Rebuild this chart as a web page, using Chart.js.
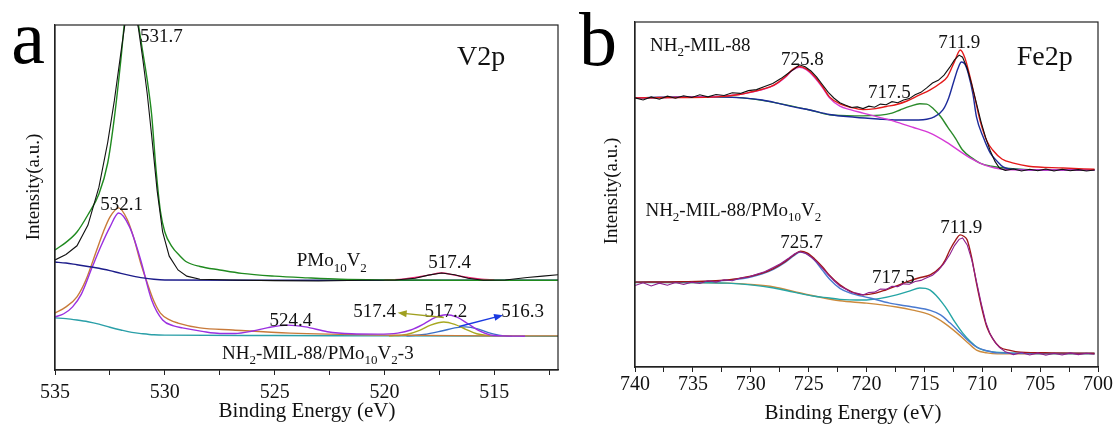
<!DOCTYPE html>
<html>
<head>
<meta charset="utf-8">
<script src="https://cdn.jsdelivr.net/npm/chart.js@4.4.1/dist/chart.umd.min.js"></script>
<style>
    html, body { margin: 0; padding: 0; background: #fff; }
    #wrap { position: relative; width: 1116px; height: 425px; }
    #chartA { position: absolute; left: 0; top: 0; }
    #chartB { position: absolute; left: 560px; top: 0; }
</style>
</head>
<body>
<div id="wrap">
    <canvas id="chartA" width="560" height="425"></canvas>
    <canvas id="chartB" width="556" height="425"></canvas>
</div>
<script>
// ---- V2p spectra: [binding energy (eV), intensity (a.u.)] ----
const v2pTicks = [535, 532.5, 530, 527.5, 525, 522.5, 520, 517.5, 515, 512.5];

// PMo10V2
const pmoRaw = [[535, 31.9], [534.5, 33.5], [534, 36], [533.5, 42], [533, 53], [532.6, 66], [532.3, 78], [532, 92], [531.8, 101], [531.6, 106], [531.4, 105], [531.2, 99], [531, 90], [530.8, 80], [530.6, 68], [530.35, 52], [530.1, 40], [529.8, 33], [529.4, 29], [529, 27.2], [528.4, 26.3], [527, 26.1], [525, 25.9], [523, 25.8], [521, 26], [519.5, 26.1], [518.6, 26.6], [518, 27.5], [517.4, 28.1], [516.8, 27.6], [516.2, 26.6], [515.5, 26], [514.5, 26.1], [513.5, 26.8], [512.8, 27.2], [512.1, 27.6]];
const pmoEnvelope = [[535, 34.8], [534.5, 37], [534, 40], [533.5, 45], [533, 51], [532.6, 60], [532.3, 73], [532, 90], [531.8, 103], [531.6, 110], [531.4, 108], [531.2, 100], [531, 92], [530.8, 84], [530.6, 74], [530.4, 58], [530.2, 46], [530, 40], [529.7, 36], [529.3, 33], [529, 31.3], [528.4, 30], [527.5, 29], [526.5, 28], [525, 27.2], [523.5, 26.7], [522, 26.3], [520, 26.1], [517, 26], [512.1, 26]];
const pmoBackground = [[535, 31.3], [534.5, 31], [534, 30.5], [533.5, 30], [533, 29.5], [532.5, 28.8], [532, 28], [531.5, 27.3], [531, 26.7], [530.5, 26.3], [530, 26.1], [525, 26], [520, 26], [512.1, 26]];
const pmoV517 = [[520, 26.1], [519.2, 26.3], [518.6, 26.8], [518, 27.5], [517.4, 28.1], [516.8, 27.5], [516.2, 26.8], [515.6, 26.3], [515, 26.1]];

// NH2-MIL-88/PMo10V2-3
const mofEnvelope = [[535, 16.5], [534.5, 18.3], [534, 21.2], [533.6, 26], [533.1, 34.8], [532.8, 40], [532.5, 44.3], [532.1, 47], [531.7, 43.5], [531.4, 38], [531.1, 31], [530.8, 25.2], [530.5, 20], [530.2, 16.5], [529.8, 14.6], [529.4, 13.6], [528.4, 12.2], [526.9, 11.6], [524.3, 10.7], [520, 10.1], [515, 9.9], [512.1, 9.9]];
const mofFit = [[535, 15.4], [534.6, 16.3], [534.2, 18.3], [533.8, 22], [533.3, 29.9], [532.9, 36], [532.5, 41.4], [532.1, 45.5], [531.6, 41.4], [531.1, 31.9], [530.6, 20.3], [530.1, 14.5], [529.6, 12.8], [529.2, 12.2], [528.3, 11.2], [527.5, 10.6], [526.8, 10.6], [526, 11.3], [525.3, 12.3], [524.4, 13], [523.6, 12.5], [522.6, 11.1], [521.5, 10.5], [520.3, 10.4], [519.4, 10.7], [518.8, 11.6], [518.2, 13.4], [517.7, 15.2], [517.2, 16], [516.7, 15.3], [516.2, 13.4], [515.7, 11.4], [515.2, 10.2], [514.6, 9.9], [513.6, 9.8]];
const mofBackground = [[535, 15.1], [534.5, 14.9], [534, 14.5], [533.5, 14], [533, 13.3], [532.5, 12.4], [532, 11.6], [531.5, 10.9], [531, 10.5], [530.5, 10.2], [530, 10.1], [525, 10], [520, 9.9], [512.1, 9.8]];
const mofV517 = [[519.8, 9.9], [519, 10.3], [518.4, 11.5], [517.9, 13], [517.3, 13.9], [516.8, 13.2], [516.3, 11.8], [515.8, 10.5], [515.2, 9.9]];
const mofV516 = [[519, 9.9], [518.2, 10.3], [517.4, 11.3], [516.8, 12.2], [516.3, 12.5], [515.8, 12], [515.3, 10.9], [514.8, 10.1], [514.2, 9.8]];

// ---- Fe2p spectra ----
const fe2pTicks = [740, 737.5, 735, 732.5, 730, 727.5, 725, 722.5, 720, 717.5, 715, 712.5, 710, 707.5, 705, 702.5, 700];

// NH2-MIL-88
const milRaw = [[740, 78.0], [739.3, 77.4], [738.6, 78.3], [737.9, 77.6], [737.2, 78.5], [736.5, 77.9], [735.8, 78.6], [735.1, 78.1], [734.4, 78.9], [733.7, 78.3], [733, 79.0], [732.3, 78.7], [731.6, 79.5], [730.9, 79.3], [730.2, 80.1], [729.5, 80.4], [728.8, 81.3], [728.1, 82.2], [727.4, 83.6], [726.7, 85.3], [726.2, 86.5], [725.8, 87.6], [725.3, 87.0], [724.8, 85.8], [724.3, 84.0], [723.8, 81.8], [723.3, 79.6], [722.8, 77.9], [722.3, 76.6], [721.8, 75.9], [721.3, 75.2], [720.8, 75.4], [720.3, 74.9], [719.8, 75.6], [719.3, 75.3], [718.8, 76.2], [718.3, 76.0], [717.8, 76.9], [717.3, 76.6], [716.8, 77.4], [716.3, 77.8], [715.8, 78.9], [715.3, 79.6], [714.8, 80.9], [714.3, 82.3], [713.8, 83.1], [713.3, 84.6], [712.8, 86.9], [712.4, 89.0], [712.0, 90.4], [711.7, 89.8], [711.3, 86.6], [710.9, 81.8], [710.5, 76.4], [710.1, 71.0], [709.7, 66.4], [709.3, 62.6], [708.9, 59.6], [708.5, 57.6], [708.0, 57.0], [707.3, 57.4], [706.6, 56.8], [705.9, 57.3], [705.2, 56.9], [704.5, 57.4], [703.8, 56.8], [703.1, 57.3], [702.4, 56.9], [701.7, 57.2], [701, 56.8], [700.3, 57.1]];
const milEnvelope = [[740, 78], [736, 78.1], [733, 78.3], [731, 79], [730, 79.7], [729, 80.5], [728, 81.7], [727, 84.2], [726.4, 86.2], [725.8, 87.1], [725.2, 86.4], [724.5, 84.3], [723.8, 81.3], [723.2, 78.3], [722.3, 76.3], [721.4, 75.3], [720.3, 74.6], [719.2, 74.9], [718.3, 75.5], [717.4, 76.1], [716.5, 77.1], [715.5, 78.7], [714.5, 80.3], [713.6, 82.3], [713, 84.2], [712.4, 88.5], [711.9, 91.9], [711.5, 89.6], [711.05, 84], [710.6, 77.5], [710.2, 71.6], [709.6, 65.5], [709.1, 62.9], [708.3, 60.3], [707.3, 59.1], [706, 58.2], [703, 57.7], [700.3, 57.3]];
const milFeIII = [[740, 78], [736, 78.3], [733.5, 78.3], [730.7, 78], [729, 77.4], [727.7, 76.5], [726.3, 75.4], [724.9, 74.5], [723.2, 73.2], [721, 72.4], [719, 71.9], [717.4, 71.6], [715.5, 71.6], [714.8, 71.8], [714.1, 72.6], [713.4, 74.5], [712.9, 78], [712.5, 82.3], [712.1, 86.5], [711.8, 88.4], [711.5, 87.8], [711.2, 85], [710.8, 79], [710.5, 72.5], [709.9, 66.5], [709.3, 62], [708.7, 59.6], [708.2, 58], [707.3, 57.3], [705, 57.1], [700.3, 57.1]];
const milSatellite = [[740, 78], [733.5, 78.3], [730.7, 78], [727.7, 76.5], [724.9, 74.5], [723.2, 73.1], [721, 72.8], [718.8, 73], [717.8, 73.6], [717.1, 74.5], [716.2, 75.6], [715.4, 76.3], [714.8, 76.2], [714.2, 74.8], [713.6, 72.6], [713, 69.6], [712.3, 66.2], [711.7, 62.9], [710.9, 60.6], [710.2, 59.1], [709.2, 58.2], [707.9, 57.6], [705.9, 57.2], [700.3, 57.1]];
const milFeII = [[740, 78], [736, 78.2], [733, 78.4], [731, 79], [730, 79.6], [729, 80.4], [728, 81.6], [727, 84], [726.4, 86], [725.8, 86.9], [725.2, 86.2], [724.5, 84], [723.8, 81], [723.2, 78], [722.3, 75.6], [721.4, 74.6], [720.3, 73.6], [718.8, 72.3], [717.4, 71], [716, 69.5], [714.5, 67.8], [713.1, 65.2], [711.7, 62], [710.9, 60.3], [710.2, 59.1], [709.3, 58], [707.9, 57.2], [705, 57.1], [700.3, 57.1]];

// NH2-MIL-88/PMo10V2
const compRaw = [[740, 23.6], [739.3, 24.4], [738.6, 23.5], [737.9, 24.3], [737.2, 23.7], [736.5, 24.5], [735.8, 23.9], [735.1, 24.6], [734.4, 24.2], [733.7, 25.0], [733, 24.6], [732.3, 25.3], [731.6, 25.0], [730.9, 25.8], [730.2, 26.1], [729.5, 26.9], [728.8, 27.6], [728.1, 28.8], [727.4, 30.0], [726.7, 31.6], [726.2, 32.8], [725.8, 33.4], [725.3, 33.0], [724.8, 31.9], [724.3, 30.4], [723.8, 28.6], [723.3, 26.7], [722.8, 25.0], [722.3, 23.5], [721.8, 22.6], [721.3, 21.6], [720.8, 21.4], [720.3, 20.9], [719.8, 21.6], [719.3, 21.7], [718.8, 22.6], [718.3, 22.5], [717.8, 23.4], [717.3, 23.3], [716.8, 24.1], [716.3, 24.0], [715.8, 24.8], [715.3, 25.1], [714.8, 25.9], [714.3, 26.6], [713.8, 28.0], [713.3, 30.0], [712.8, 32.6], [712.4, 35.2], [712.0, 37.0], [711.7, 37.4], [711.3, 35.4], [710.9, 31.0], [710.5, 24.8], [710.1, 18.6], [709.7, 13.0], [709.3, 9.4], [708.9, 7.2], [708.5, 5.6], [708.0, 4.4], [707.3, 3.6], [706.6, 4.2], [705.9, 3.5], [705.2, 4.1], [704.5, 3.4], [703.8, 4.0], [703.1, 3.5], [702.4, 4.1], [701.7, 3.6], [701, 4.0], [700.3, 3.7]];
const compEnvelope = [[740, 24.6], [736, 24.7], [733, 25], [731, 25.7], [730, 26.3], [729, 27.2], [728, 28.6], [727, 30.6], [726.3, 32.4], [725.7, 33.6], [725.1, 33], [724.5, 31.4], [723.8, 29], [723.2, 26.6], [722.3, 23.8], [721.4, 22], [720.3, 20.9], [719.2, 21.4], [718.3, 22.4], [717.4, 23.5], [716.4, 24.8], [715.5, 25.8], [714.5, 26.7], [713.6, 29], [713.2, 31], [712.8, 33.9], [712.3, 36.8], [711.9, 38.3], [711.6, 37.9], [711.3, 36.8], [710.9, 31.5], [710.5, 24.3], [710, 16.5], [709.6, 11.6], [709.1, 8.2], [708.5, 5.8], [707.6, 4.8], [706.7, 4.3], [704, 4.1], [700.3, 4.0]];
const compFeII = [[740, 24.6], [733, 24.9], [731, 25.5], [730, 26.1], [729, 27], [728, 28.4], [727, 30.4], [726.3, 32.2], [725.7, 33.3], [725.1, 32.7], [724.5, 31], [723.8, 28], [723.2, 25.5], [722.3, 22.8], [721.4, 21.4], [719.7, 20], [718, 18.5], [716, 17.4], [714.5, 16.4], [713.6, 15.1], [712.8, 12.8], [711.9, 9.9], [711.2, 7.6], [710.5, 5.8], [709.6, 4.7], [708.7, 4.1], [705, 3.9], [700.3, 3.9]];
const compSatellite = [[740, 24.5], [736, 24.5], [732, 24.3], [730, 23.8], [728, 22.9], [726.3, 21.7], [724.5, 20.5], [723.2, 20], [722.3, 19.6], [720.3, 19.4], [718.8, 19.9], [717.4, 20.9], [716.3, 22], [715.4, 22.9], [714.9, 22.8], [714.5, 22.3], [714, 20.8], [713.5, 18.8], [713, 16.5], [712.4, 13.2], [711.7, 9.9], [711, 7.3], [710.4, 5.6], [709.9, 4.9], [708.9, 4.3], [707.9, 4.1], [704, 3.9], [700.3, 3.9]];
const compBackground = [[740, 24.6], [736, 24.5], [732, 24.3], [730, 23.9], [728, 23.2], [726.3, 21.9], [724, 20.2], [722.3, 19.2], [720, 18.5], [717.4, 17.4], [716, 16.5], [714.5, 15.1], [713.3, 12.8], [712.2, 9.9], [711.3, 7.2], [710.5, 4.9], [709.6, 4.1], [708.7, 3.8], [704, 3.8], [700.3, 3.8]];

const SERIF = "'Liberation Serif', 'Times New Roman', serif";

// text with _{...} subscripts, y is the middle of the main text
function drawRich(ctx, text, x, y, size, align) {
    const runs = [];
    const re = /_\{([^}]*)\}/g;
    let last = 0, m;
    while ((m = re.exec(text))) {
        if (m.index > last) runs.push({ t: text.slice(last, m.index), sub: false });
        runs.push({ t: m[1], sub: true });
        last = re.lastIndex;
    }
    if (last < text.length) runs.push({ t: text.slice(last), sub: false });

    const subSize = Math.round(size * 0.66);
    let total = 0;
    runs.forEach(r => {
        ctx.font = `${r.sub ? subSize : size}px ${SERIF}`;
        r.w = ctx.measureText(r.t).width;
        total += r.w;
    });
    let cx = align === 'center' ? x - total / 2 : (align === 'right' ? x - total : x);
    ctx.textAlign = 'left';
    ctx.textBaseline = 'middle';
    runs.forEach(r => {
        ctx.font = `${r.sub ? subSize : size}px ${SERIF}`;
        ctx.fillText(r.t, cx, r.sub ? y + size * 0.36 : y);
        cx += r.w;
    });
}

function arrow(ctx, x1, y1, x2, y2, color) {
    const a = Math.atan2(y2 - y1, x2 - x1);
    ctx.strokeStyle = color;
    ctx.fillStyle = color;
    ctx.lineWidth = 1.4;
    ctx.beginPath();
    ctx.moveTo(x1, y1);
    ctx.lineTo(x2 - 6 * Math.cos(a), y2 - 6 * Math.sin(a));
    ctx.stroke();
    ctx.beginPath();
    ctx.moveTo(x2, y2);
    ctx.lineTo(x2 - 9 * Math.cos(a) + 3.5 * Math.sin(a), y2 - 9 * Math.sin(a) - 3.5 * Math.cos(a));
    ctx.lineTo(x2 - 9 * Math.cos(a) - 3.5 * Math.sin(a), y2 - 9 * Math.sin(a) + 3.5 * Math.cos(a));
    ctx.closePath();
    ctx.fill();
}

// frame, letters, axis titles, peak labels and arrows
function decorPlugin(d) {
    return {
        id: 'decor',
        afterDraw(chart) {
            const { ctx, chartArea: a, scales: { x, y } } = chart;
            ctx.save();
            ctx.strokeStyle = '#222';
            ctx.lineWidth = 1.2;
            ctx.strokeRect(a.left, a.top, a.right - a.left, a.bottom - a.top);

            ctx.fillStyle = '#111';
            d.labels.forEach(l => {
                drawRich(ctx, l.text, x.getPixelForValue(l.x) + (l.dx || 0), y.getPixelForValue(l.y), l.size || 19, l.align || 'center');
            });
            (d.arrows || []).forEach(ar => {
                arrow(ctx, x.getPixelForValue(ar.from[0]), y.getPixelForValue(ar.from[1]),
                    x.getPixelForValue(ar.to[0]), y.getPixelForValue(ar.to[1]), ar.color);
            });

            ctx.fillStyle = '#000';
            ctx.font = `76px ${SERIF}`;
            ctx.textAlign = 'center';
            ctx.textBaseline = 'alphabetic';
            ctx.fillText(d.letter, d.letterPos[0], d.letterPos[1]);

            ctx.fillStyle = '#111';
            ctx.font = `21px ${SERIF}`;
            ctx.textBaseline = 'middle';
            ctx.fillText('Binding Energy (eV)', d.xTitlePos[0], d.xTitlePos[1]);

            ctx.translate(d.yTitlePos[0], d.yTitlePos[1]);
            ctx.rotate(-Math.PI / 2);
            ctx.font = `19px ${SERIF}`;
            ctx.fillText('Intensity(a.u.)', 0, 0);
            ctx.restore();
        }
    };
}

function makeDataset(points, color, raw) {
    return {
        data: points.map(([e, i]) => ({ x: e, y: i })),
        borderColor: color,
        borderWidth: raw ? 1.1 : 1.4,
        pointRadius: 0,
        fill: false,
        tension: raw ? 0 : 0.4,
        cubicInterpolationMode: raw ? 'default' : 'monotone'
    };
}

function makeChart(id, datasets, range, ticks, box, d) {
    return new Chart(document.getElementById(id), {
        type: 'line',
        data: { datasets },
        options: {
            responsive: false,
            animation: false,
            layout: { padding: { left: 0, top: box.top, right: box.right, bottom: 0 } },
            plugins: { legend: { display: false }, tooltip: { enabled: false } },
            scales: {
                x: {
                    type: 'linear',
                    reverse: true,
                    min: range[0],
                    max: range[1],
                    afterBuildTicks: s => { s.ticks = ticks.map(v => ({ value: v })); },
                    afterFit: s => { s.height = box.xHeight; },
                    grid: { display: true, drawOnChartArea: false, drawTicks: true, tickLength: 5, color: '#222' },
                    border: { display: true, color: '#222', width: 1.2 },
                    ticks: {
                        autoSkip: false,
                        maxRotation: 0,
                        padding: box.tickPad,
                        color: '#111',
                        font: { family: SERIF, size: 20 },
                        callback: v => (v % 5 === 0 ? String(v) : '')
                    }
                },
                y: {
                    min: 0,
                    max: 100,
                    afterFit: s => { s.width = box.yWidth; },
                    grid: { display: false },
                    border: { display: true, color: '#222', width: 1.2 },
                    ticks: { display: false }
                }
            }
        },
        plugins: [decorPlugin(d)]
    });
}

// panel a: V2p
makeChart('chartA', [
    makeDataset(pmoRaw, '#111111', true),
    makeDataset(pmoEnvelope, '#1f8a1f'),
    makeDataset(pmoV517, '#e8206e'),
    makeDataset(pmoBackground, '#1c1c8a'),
    makeDataset(mofFit, '#9a30e0'),
    makeDataset(mofEnvelope, '#c87a3a'),
    makeDataset(mofV517, '#a8a820'),
    makeDataset(mofV516, '#3a6fc8'),
    makeDataset(mofBackground, '#2a9fa8')
], [512.1, 535], v2pTicks, { top: 25, right: 2, xHeight: 55, yWidth: 55, tickPad: 6 }, {
    letter: 'a',
    letterPos: [28, 63],
    xTitlePos: [307, 411],
    yTitlePos: [34, 187],
    labels: [
        { text: '531.7', x: 531.7, y: 96.5, dx: 34 },
        { text: '532.1', x: 532.1, y: 47.8, dx: 3 },
        { text: 'PMo_{10}V_{2}', x: 522.4, y: 31.5 },
        { text: '517.4', x: 517.4, y: 31, dx: 8 },
        { text: '524.4', x: 524.4, y: 14.2, dx: 3 },
        { text: '517.4', x: 517.4, y: 16.8, dx: -67 },
        { text: '517.2', x: 517.2, y: 16.8 },
        { text: '516.3', x: 516.3, y: 16.8, dx: 57 },
        { text: 'NH_{2}-MIL-88/PMo_{10}V_{2}-3', x: 527.4, y: 4.6, align: 'left' },
        { text: 'V2p', x: 515.6, y: 90.4, size: 28 }
    ],
    arrows: [
        { from: [517.3, 15.2], to: [519.4, 16.6], color: '#a0a020' },
        { from: [516.6, 12.6], to: [514.6, 15.9], color: '#1a3ae0' }
    ]
});

// panel b: Fe2p
makeChart('chartB', [
    makeDataset(milRaw, '#111111', true),
    makeDataset(milEnvelope, '#e41a1a'),
    makeDataset(milFeII, '#d63ad6'),
    makeDataset(milFeIII, '#1c2a9a'),
    makeDataset(milSatellite, '#2a8a2a'),
    makeDataset(compRaw, '#8e1e8e', true),
    makeDataset(compEnvelope, '#a01818'),
    makeDataset(compFeII, '#4a7ad0'),
    makeDataset(compSatellite, '#25a5a5'),
    makeDataset(compBackground, '#cc8a3c')
], [700, 740], fe2pTicks, { top: 22, right: 18, xHeight: 58, yWidth: 75, tickPad: 1 }, {
    letter: 'b',
    letterPos: [38, 65],
    xTitlePos: [293, 413],
    yTitlePos: [52, 191],
    labels: [
        { text: 'NH_{2}-MIL-88', x: 738.7, y: 93, align: 'left' },
        { text: '725.8', x: 725.8, y: 89, dx: 3 },
        { text: '717.5', x: 717.5, y: 79.4, dx: -6 },
        { text: '711.9', x: 711.9, y: 93.9, dx: -1 },
        { text: 'Fe2p', x: 704.6, y: 89.6, size: 28 },
        { text: 'NH_{2}-MIL-88/PMo_{10}V_{2}', x: 739.1, y: 45.2, align: 'left' },
        { text: '725.7', x: 725.7, y: 35.9, dx: 1 },
        { text: '717.5', x: 717.5, y: 25.8, dx: -2 },
        { text: '711.9', x: 711.9, y: 40.3, dx: 1 }
    ]
});
</script>
</body>
</html>
